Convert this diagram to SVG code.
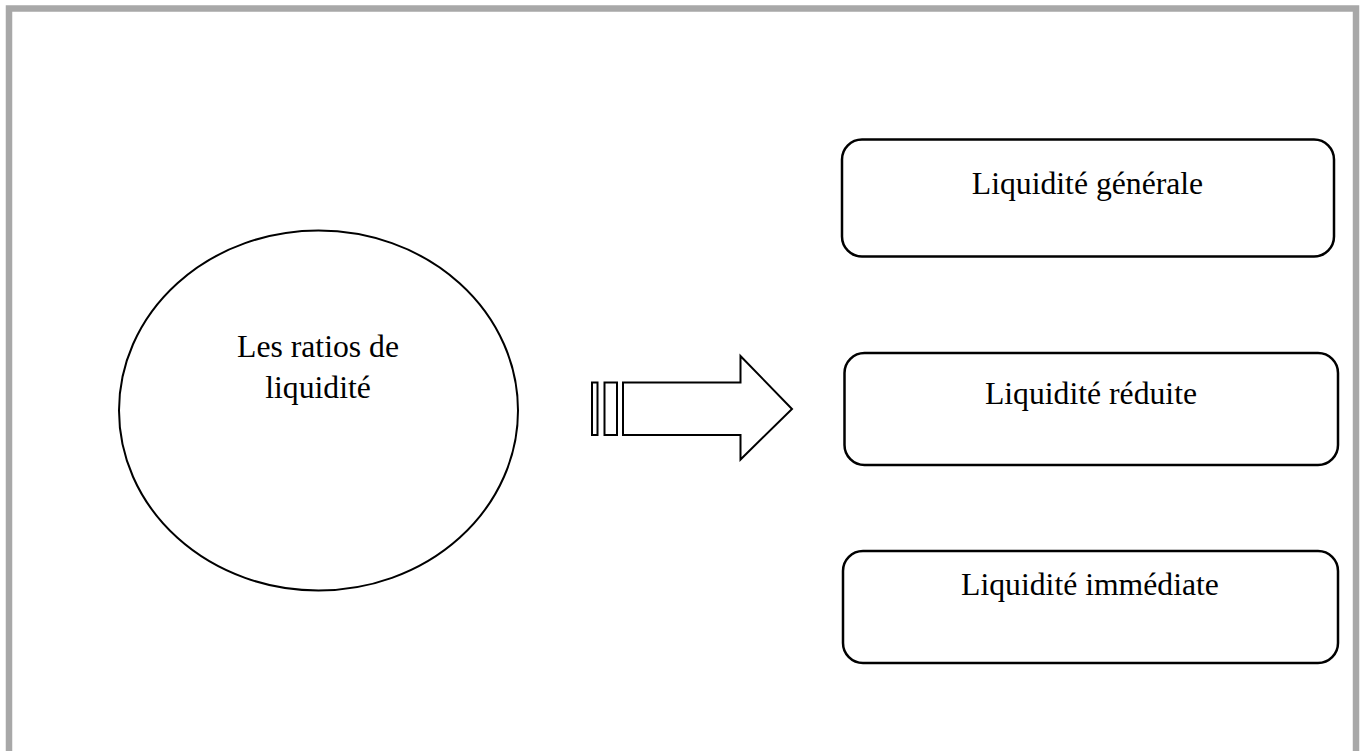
<svg xmlns="http://www.w3.org/2000/svg" width="1362" height="751" viewBox="0 0 1362 751">
<style>
.frame{fill:none;stroke:#a8a8a8;stroke-width:6.5}
.box{fill:#fff;stroke:#000;stroke-width:2.5}
.shape{fill:#fff;stroke:#000;stroke-width:2}
.lbl{font-family:"Liberation Serif","Times New Roman",serif;font-size:31.7px;fill:#000;text-anchor:middle}
</style>
<rect width="1362" height="751" fill="#fff"/>
<rect class="frame" x="9" y="8.5" width="1347" height="760"/>
<g id="ratios">
<ellipse class="shape" cx="318.5" cy="410.5" rx="199.5" ry="180"/>
<text class="lbl" x="318" y="357">Les ratios de</text>
<text class="lbl" x="318" y="398">liquidité</text>
</g>
<g id="connectors">
<rect class="shape" x="592" y="382.5" width="5.5" height="52.5"/>
<rect class="shape" x="604.5" y="382.5" width="12.5" height="52.5"/>
<path class="shape" d="M623,382.5 H740.5 V356 L792,409 L740.5,459.5 V435 H623 Z" stroke-linejoin="miter"/>
</g>
<g id="generale">
<rect class="box" x="842" y="139.5" width="492" height="117" rx="20"/>
<text class="lbl" x="1087.5" y="194">Liquidité générale</text>
</g>
<g id="reduite">
<rect class="box" x="844.5" y="353" width="493.5" height="112" rx="20"/>
<text class="lbl" x="1091" y="404">Liquidité réduite</text>
</g>
<g id="immediate">
<rect class="box" x="843" y="551" width="495" height="112" rx="20"/>
<text class="lbl" x="1090" y="595">Liquidité immédiate</text>
</g>
</svg>
